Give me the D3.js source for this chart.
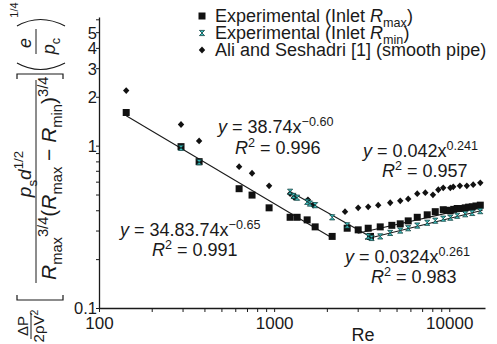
<!DOCTYPE html>
<html>
<head>
<meta charset="utf-8">
<script src="https://cdn.jsdelivr.net/npm/d3@7"></script>
<style>
  body { margin: 0; background: #fff; }
  svg { display: block; font-family: "Liberation Sans", Arial, sans-serif; }
</style>
</head>
<body>
<script>
// [Re, value]
const rmaxPoints = [
    [143, 1.6], [294, 0.986], [373, 0.797], [631, 0.543], [748, 0.496], [936, 0.414],
    [1234, 0.362], [1353, 0.362], [1544, 0.349], [1715, 0.316], [2145, 0.276],
    [2613, 0.31], [3020, 0.303], [3445, 0.31], [3550, 0.276], [4035, 0.316], [4700, 0.323],
    [5250, 0.33], [5830, 0.344], [6565, 0.362], [7485, 0.375], [8318, 0.392], [9240, 0.403],
    [9700, 0.4], [10140, 0.397], [10600, 0.405], [11100, 0.41], [11600, 0.41], [12340, 0.414],
    [12900, 0.418], [13530, 0.42], [14200, 0.425], [15040, 0.43]
]
const rminPoints = [
    [294, 0.97], [373, 0.79], [1234, 0.52], [1290, 0.49], [1353, 0.478], [1544, 0.451],
    [1600, 0.44], [1715, 0.43], [2145, 0.362], [2613, 0.323], [3445, 0.276], [3600, 0.27],
    [4035, 0.276], [4600, 0.29], [5250, 0.3], [5830, 0.31], [6565, 0.322], [7485, 0.335],
    [8318, 0.345], [9240, 0.355], [10140, 0.36], [11100, 0.37], [12340, 0.378],
    [13530, 0.385], [15040, 0.395]
]
const aliPoints = [
    [143, 2.185], [294, 1.35], [373, 1.07], [631, 0.742], [748, 0.676], [936, 0.566],
    [1234, 0.506], [1300, 0.48], [1560, 0.464], [1670, 0.43], [2540, 0.392], [3020, 0.414],
    [3445, 0.42], [3930, 0.43], [4600, 0.445], [5250, 0.457], [5830, 0.47], [6565, 0.506],
    [7300, 0.513], [8070, 0.498], [8660, 0.535], [9240, 0.55], [10140, 0.55], [10540, 0.558],
    [11500, 0.566], [12600, 0.566], [13700, 0.575], [15040, 0.59]
]
// fitted power-law lines, end points
const fitLines = [
    [[143, 1.53], [2145, 0.27]],
    [[1267, 0.513], [3490, 0.278]],
    [[3000, 0.289], [15500, 0.43]],
    [[3300, 0.265], [15500, 0.4]]
]
const fitEquations = [
    {coef: "38.74x", exp: "\u22120.60", r2: "0.996"},
    {coef: "34.83.74x", exp: "\u22120.65", r2: "0.991"},
    {coef: "0.042x", exp: "0.241", r2: "0.957"},
    {coef: "0.0324x", exp: "0.261", r2: "0.983"}
]
const xTickLabels = [100, 1000, 10000]
const yTickLabels = [0.1, 1, 2, 3, 4, 5]
const legendLabels = [
    [{t: "Experimental (Inlet "}, {t: "R", i: true}, {t: "max", sub: true}, {t: ")"}],
    [{t: "Experimental (Inlet "}, {t: "R", i: true}, {t: "min", sub: true}, {t: ")"}],
    [{t: "Ali and Seshadri [1] (smooth pipe)"}]
]

const width = 497, height = 344
const ink = "#1a1a1a"

const svg = d3.select("body").append("svg")
    .attr("width", width)
    .attr("height", height)

const x = d3.scaleLog().domain([100, 16000]).range([99, 485])
const y = d3.scaleLog().domain([0.1, 6.2]).range([308, 17])

// text with italic / sub / sup runs
function rich(sel, runs, size) {
    let shift = 0
    runs.forEach(r => {
        const target = r.sub ? size * 0.3 : r.sup ? -size * 0.4 : 0
        const ts = sel.append("tspan")
            .attr("dy", target - shift)
            .attr("font-size", r.sub || r.sup ? size * 0.7 : size)
            .text(r.t)
        if (r.i) ts.attr("font-style", "italic")
        shift = target
    })
}

// axes
const xAxis = svg.append("g")
    .attr("transform", `translate(0,${y.range()[0]})`)
    .call(d3.axisBottom(x)
        .tickValues(x.ticks())
        .tickSize(4)
        .tickSizeOuter(0)
        .tickFormat(d => xTickLabels.includes(d) ? d : ""))
const yAxis = svg.append("g")
    .attr("transform", `translate(${x.range()[0]},0)`)
    .call(d3.axisLeft(y)
        .tickValues(y.ticks())
        .tickSize(3)
        .tickSizeOuter(0)
        .tickFormat(d => yTickLabels.includes(+d.toFixed(1)) ? d3.format("~g")(d) : ""))

;[xAxis, yAxis].forEach(a => {
    a.select(".domain").attr("stroke", ink).attr("stroke-width", 1.3)
    a.selectAll(".tick line").attr("stroke", ink)
    a.selectAll("text").attr("fill", ink).attr("font-size", 17)
        .attr("font-family", "Liberation Sans, Arial, sans-serif")
})
xAxis.selectAll("text").attr("dy", "0.85em")
yAxis.selectAll("text").attr("x", -2).attr("dy", "0.36em").attr("font-size", 16.5)

svg.append("text")
    .attr("x", 363).attr("y", 341)
    .attr("text-anchor", "middle")
    .attr("font-size", 18)
    .attr("fill", ink)
    .text("Re")

// trend lines
svg.append("g")
    .selectAll("line")
    .data(fitLines)
    .join("line")
    .attr("x1", d => x(d[0][0])).attr("y1", d => y(d[0][1]))
    .attr("x2", d => x(d[1][0])).attr("y2", d => y(d[1][1]))
    .attr("stroke", ink)
    .attr("stroke-width", 1.1)

// markers
const squarePath = "M-3.5,-3.5H3.5V3.5H-3.5Z"
const diamondPath = "M0,-3.4L3.2,0L0,3.4L-3.2,0Z"
const hourglassPath = "M-2.6,-2.6H2.6L-2.6,2.6H2.6Z"

svg.append("g")
    .selectAll("path")
    .data(rmaxPoints)
    .join("path")
    .attr("transform", d => `translate(${x(d[0])},${y(d[1])})`)
    .attr("d", squarePath)
    .attr("fill", "#111")

svg.append("g")
    .selectAll("path")
    .data(aliPoints)
    .join("path")
    .attr("transform", d => `translate(${x(d[0])},${y(d[1])})`)
    .attr("d", diamondPath)
    .attr("fill", "#111")

svg.append("g")
    .selectAll("path")
    .data(rminPoints)
    .join("path")
    .attr("transform", d => `translate(${x(d[0])},${y(d[1])})`)
    .attr("d", hourglassPath)
    .attr("fill", "#3cc4c4")
    .attr("stroke", "#12403f")
    .attr("stroke-width", 0.8)

// equation labels
const eqPos = [[218, 133, 235, 154], [120, 236, 152, 256], [363, 157, 382, 177], [345, 263, 371, 283]]
fitEquations.forEach((e, i) => {
    const [ex, ey, rx, ry] = eqPos[i]
    const t1 = svg.append("text").attr("x", ex).attr("y", ey).attr("fill", ink)
    rich(t1, [{t: "y", i: true}, {t: " = " + e.coef}, {t: e.exp, sup: true}], 18)
    const t2 = svg.append("text").attr("x", rx).attr("y", ry).attr("fill", ink)
    rich(t2, [{t: "R", i: true}, {t: "2", sup: true}, {t: " = " + e.r2}], 18)
})

// legend
const legendMarks = [
    {d: squarePath, fill: "#111"},
    {d: hourglassPath, fill: "#3cc4c4", stroke: "#12403f"},
    {d: diamondPath, fill: "#111"}
]
legendLabels.forEach((runs, i) => {
    const cy = 16 + i * 17
    svg.append("path")
        .attr("transform", `translate(202,${cy})`)
        .attr("d", legendMarks[i].d)
        .attr("fill", legendMarks[i].fill)
        .attr("stroke", legendMarks[i].stroke || "none")
        .attr("stroke-width", 0.8)
    const t = svg.append("text").attr("x", 215).attr("y", cy + 6).attr("fill", ink)
    rich(t, runs, 18)
})

// y axis title, built in a rotated frame (u = 344 - screen y, w = screen x)
const yl = svg.append("g")
    .attr("transform", "translate(0,344) rotate(-90)")
    .attr("fill", ink)

rich(yl.append("text").attr("x", 18).attr("y", 28).attr("text-anchor", "middle"),
    [{t: "\u0394P"}], 15)
yl.append("line").attr("x1", 5).attr("x2", 31).attr("y1", 31).attr("y2", 31).attr("stroke", ink)
rich(yl.append("text").attr("x", 18).attr("y", 44).attr("text-anchor", "middle"),
    [{t: "2\u03c1V"}, {t: "2", sup: true}], 15)

rich(yl.append("text").attr("x", 170).attr("y", 31).attr("text-anchor", "middle"),
    [{t: "p", i: true}, {t: "s", sub: true}, {t: "d", i: true}, {t: "1/2", sup: true}], 19)
yl.append("line").attr("x1", 61).attr("x2", 264).attr("y1", 36).attr("y2", 36).attr("stroke", ink)
rich(yl.append("text").attr("x", 64).attr("y", 56),
    [{t: "R", i: true}, {t: "max", sub: true}, {t: "3/4", sup: true}, {t: "("},
     {t: "R", i: true}, {t: "max", sub: true}, {t: " \u2212 "}, {t: "R", i: true},
     {t: "min", sub: true}, {t: ")"}, {t: "3/4", sup: true}], 21)

rich(yl.append("text").attr("x", 301).attr("y", 31).attr("text-anchor", "middle"),
    [{t: "e", i: true}], 18)
yl.append("line").attr("x1", 290).attr("x2", 315).attr("y1", 36).attr("y2", 36).attr("stroke", ink)
rich(yl.append("text").attr("x", 298).attr("y", 55).attr("text-anchor", "middle"),
    [{t: "p", i: true}, {t: "c", sub: true}], 18)
rich(yl.append("text").attr("x", 334).attr("y", 18).attr("text-anchor", "middle"),
    [{t: "1/4"}], 11)

// brackets and parentheses drawn in screen space
const br = svg.append("g").attr("fill", "none").attr("stroke", ink).attr("stroke-width", 1.2)
br.append("path").attr("d", "M17,295V300H63V295")
br.append("path").attr("d", "M17,79V74H63V79")
br.append("path").attr("d", "M17,63Q40,76 65,63")
br.append("path").attr("d", "M17,26Q40,13 65,26")
</script>
</body>
</html>
